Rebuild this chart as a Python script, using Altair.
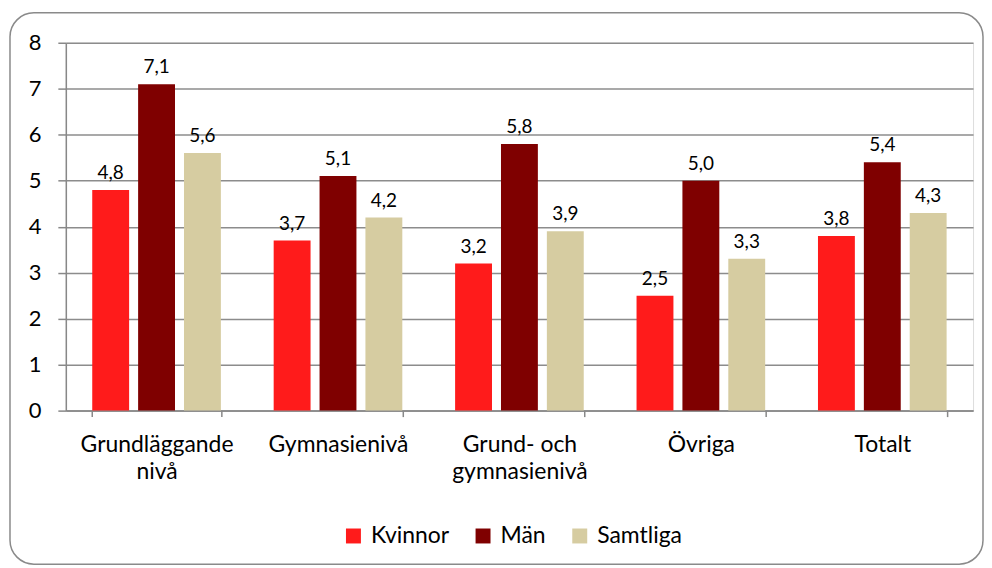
import altair as alt
import pandas as pd

categories = ["Grundläggande|nivå", "Gymnasienivå", "Grund- och|gymnasienivå", "Övriga", "Totalt"]
series = ["Kvinnor", "Män", "Samtliga"]
kvinnor = [4.8, 3.7, 3.2, 2.5, 3.8]
man = [7.1, 5.1, 5.8, 5.0, 5.4]
samtliga = [5.6, 4.2, 3.9, 3.3, 4.3]
colors = ["#FF1B1B", "#7F0000", "#D6CCA1"]

rows = []
for s, vals in zip(series, [kvinnor, man, samtliga]):
    for c, v in zip(categories, vals):
        rows.append({"kategori": c, "serie": s, "varde": v})
df = pd.DataFrame(rows)

FONT = "Lato"
W, H = 910, 369

x = alt.X("kategori:N", sort=categories, title=None,
          scale=alt.Scale(paddingInner=0.291, paddingOuter=0.1456),
          axis=alt.Axis(labelExpr="split(datum.label, '|')", labelAngle=0,
                        labelFontSize=23, labelFont=FONT, labelColor="#000",
                        labelPadding=17, labelLineHeight=27,
                        tickBand="extent", tickSize=6, tickColor="#888",
                        tickWidth=1.5, domainColor="#888", domainWidth=1.5,
                        grid=False))
xo = alt.XOffset("serie:N", sort=series,
                 scale=alt.Scale(paddingInner=0.196, paddingOuter=0))
y = alt.Y("varde:Q", title=None,
          scale=alt.Scale(domain=[0, 8], nice=False),
          axis=alt.Axis(values=list(range(0, 9)), labelFontSize=22, labelFont=FONT,
                        labelColor="#000", labelPadding=17, tickSize=8,
                        tickColor="#888", tickWidth=1.5, domainColor="#888",
                        domainWidth=1.5, gridColor="#8c8c8c", gridWidth=1.5))

base = alt.Chart(df)
bars = base.mark_bar().encode(
    x=x, xOffset=xo, y=y,
    color=alt.Color("serie:N", sort=series,
                    scale=alt.Scale(domain=series, range=colors),
                    legend=alt.Legend(title=None, orient="none", direction="horizontal",
                                      legendX=277, legendY=483,
                                      symbolType="square", symbolSize=225,
                                      symbolStrokeWidth=0,
                                      labelFontSize=23, labelFont=FONT, labelColor="#000",
                                      columnPadding=22, labelOffset=6, padding=0)),
)
labels = base.mark_text(dy=-17, fontSize=19, font=FONT, color="#000").encode(
    x=x, xOffset=xo, y=y,
    text=alt.Text("lbl:N"),
).transform_calculate(lbl="replace(format(datum.varde, '.1f'), '.', ',')")

border = alt.Chart(pd.DataFrame({"a": [0]})).mark_rect(
    fill="transparent", stroke="#8a8a8a", strokeWidth=1.5, cornerRadius=24
).encode(x=alt.value(-56), x2=alt.value(W + 10), y=alt.value(-30), y2=alt.value(H + 154))

chart = alt.layer(border, bars, labels).properties(
    width=W, height=H,
    padding={"left": 1, "top": 3, "right": 0, "bottom": 0},
).configure_view(stroke=None).configure(background="white")

chart.save("out.html", embed_options={"renderer": "svg", "actions": False})
